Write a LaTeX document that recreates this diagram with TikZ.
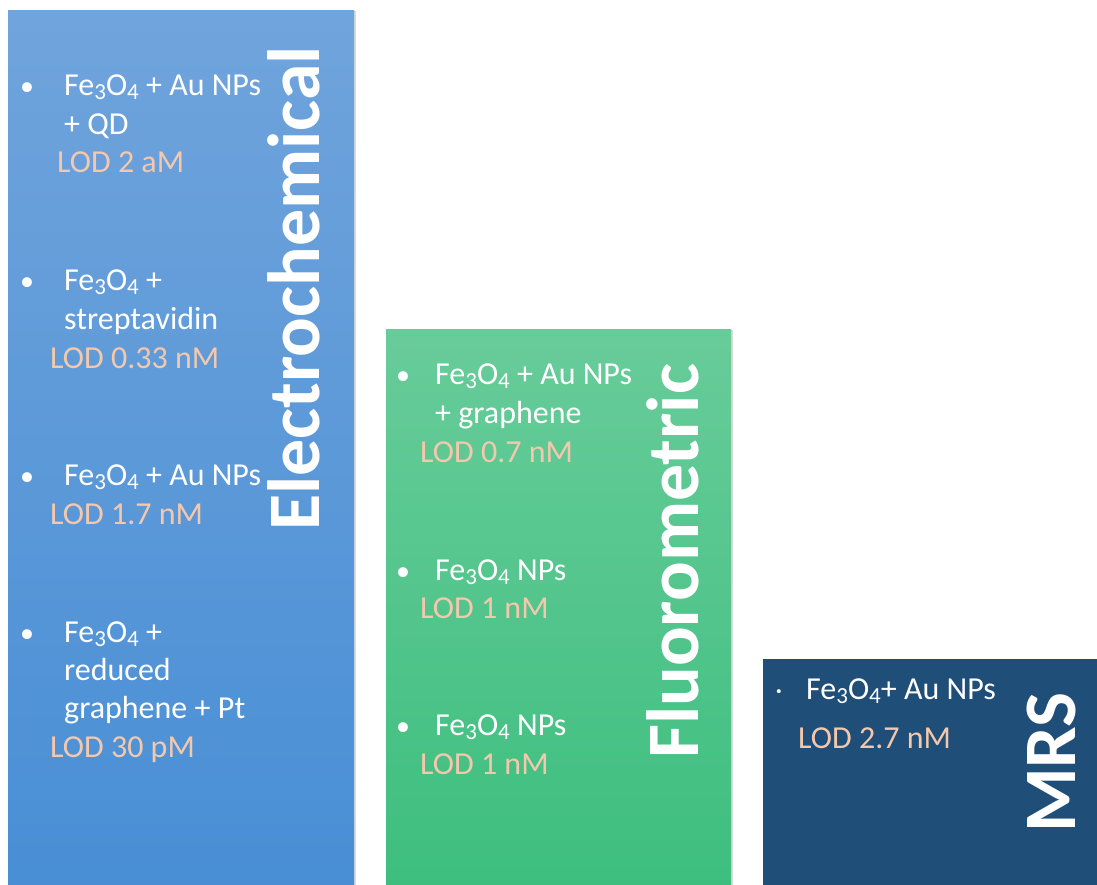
\documentclass[tikz,border=0pt]{standalone}
\usepackage{fontspec}
\setmainfont{Carlito}
\usepackage{tikz}
\usetikzlibrary{shadows}
\definecolor{echemTop}{RGB}{112,164,220}
\definecolor{echemBot}{RGB}{72,142,213}
\definecolor{fluoTop}{RGB}{104,204,154}
\definecolor{fluoBot}{RGB}{60,190,126}
\definecolor{mrsBlue}{RGB}{31,78,121}
\definecolor{lodPeach}{RGB}{244,200,172}
\newcommand{\lowsub}[1]{\raisebox{-0.32ex}{\fontsize{23}{23}\selectfont #1}}
\newcommand{\feo}{Fe\lowsub{3}O\lowsub{4}}

\begin{document}
\begin{tikzpicture}[x=1pt, y=-1pt,
	bar/.style={drop shadow={opacity=0.3, shadow xshift=2pt, shadow yshift=-1pt}},
	txt/.style={anchor=base west, inner sep=0pt, text=white, font=\fontsize{32}{38}\selectfont},
	lod/.style={txt, text=lodPeach},
	dot/.style={anchor=base, inner sep=0pt, text=white, font=\fontsize{28}{38}\selectfont},
	title/.style={anchor=base west, inner sep=0pt, rotate=90, text=white, font=\fontsize{74}{80}\selectfont\bfseries}]
				
				\useasboundingbox (0,0) rectangle (1097,884);
				\clip (0,0) rectangle (1097,884);
				
				% bars
				\fill[bar, top color=echemTop, bottom color=echemBot] (8,10) rectangle (354,900);
				\fill[bar, top color=fluoTop, bottom color=fluoBot] (386,329) rectangle (731,900);
				\fill[bar, mrsBlue] (763,659) rectangle (1110,900);
				
				% electrochemical
				\node[title] (echem) at (319,531) {Electrochemical};
				\node[dot] (eb1) at (27,95) {•};
				\node[txt] (e1a) at (64,95) {\feo{} + Au NPs};
				\node[txt] (e1b) at (64,134) {+ QD};
				\node[lod] (e1lod) at (57,172) {LOD 2 aM};
				\node[dot] (eb2) at (27,290) {•};
				\node[txt] (e2a) at (64,290) {\feo{} +};
				\node[txt] (e2b) at (64,329) {streptavidin};
				\node[lod] (e2lod) at (50,368) {LOD 0.33 nM};
				\node[dot] (eb3) at (27,485) {•};
				\node[txt] (e3a) at (64,485) {\feo{} + Au NPs};
				\node[lod] (e3lod) at (50,524) {LOD 1.7 nM};
				\node[dot] (eb4) at (27,642) {•};
				\node[txt] (e4a) at (64,642) {\feo{} +};
				\node[txt] (e4b) at (64,680) {reduced};
				\node[txt] (e4c) at (64,718) {graphene + Pt};
				\node[lod] (e4lod) at (50,757) {LOD 30 pM};
				
				% fluorometric
				\node[title] (fluo) at (698,759) {Fluorometric};
				\node[dot] (fb1) at (403,384) {•};
				\node[txt] (f1a) at (435,384) {\feo{} + Au NPs};
				\node[txt] (f1b) at (435,423) {+ graphene};
				\node[lod] (f1lod) at (420,462) {LOD 0.7 nM};
				\node[dot] (fb2) at (403,580) {•};
				\node[txt] (f2a) at (435,580) {\feo{} NPs};
				\node[lod] (f2lod) at (420,618) {LOD 1 nM};
				\node[dot] (fb3) at (403,735) {•};
				\node[txt] (f3a) at (435,735) {\feo{} NPs};
				\node[lod] (f3lod) at (420,774) {LOD 1 nM};
				
				% mrs
				\node[title] (mrs) at (1075,833) {MRS};
				\node[dot] (mb1) at (779,699) {·};
				\node[txt] (m1a) at (806,699) {\feo+ Au NPs};
				\node[lod] (m1lod) at (798,748) {LOD 2.7 nM};
			\end{tikzpicture}
\end{document}
